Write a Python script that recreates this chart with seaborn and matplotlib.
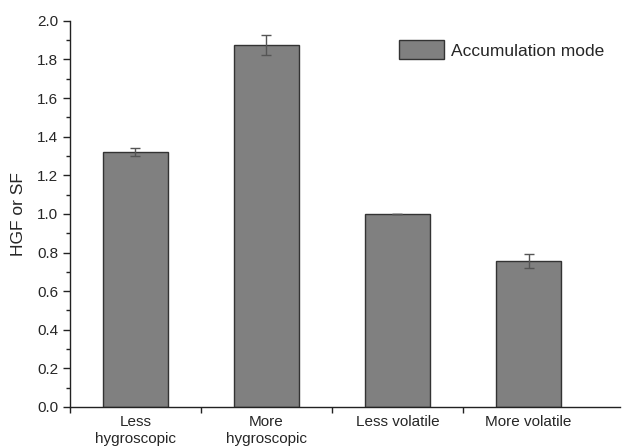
#!/usr/bin/env python

import numpy as np
import pandas as pd
import matplotlib
matplotlib.use("Agg")
import matplotlib.pyplot as plt
import seaborn as sns
from matplotlib.patches import Patch
from matplotlib.ticker import MultipleLocator, FixedLocator, FormatStrFormatter

# データ
categories = ["Less\nhygroscopic", "More\nhygroscopic", "Less volatile", "More volatile"]
values = [1.32, 1.875, 1.0, 0.755]
errors = [0.02, 0.05, 0.0, 0.035]
legend_label = "Accumulation mode"


def main():
    sns.set_style("ticks")
    plt.rcParams['font.family'] = ['Liberation Sans', 'DejaVu Sans']

    df = pd.DataFrame({'cat': categories, 'val': values})

    fig = plt.figure(figsize=(6.24, 4.47), dpi=100)
    ax = fig.add_axes([0.112, 0.0895, 0.882, 0.864])

    sns.barplot(data=df, x='cat', y='val', color='#808080', saturation=1,
                width=0.5, errorbar=None, edgecolor='#333333', linewidth=1.0, ax=ax)
    ax.errorbar(x=np.arange(len(values)), y=values, yerr=errors, fmt='none',
                ecolor='#555555', elinewidth=1.0, capsize=3.5, capthick=1.0)

    ax.set_xlim(-0.5, 3.7)
    ax.set_ylim(0, 2.0)

    # 軸設定
    ax.yaxis.set_major_locator(MultipleLocator(0.2))
    ax.yaxis.set_minor_locator(MultipleLocator(0.1))
    ax.yaxis.set_major_formatter(FormatStrFormatter('%.1f'))
    ax.set_xticks(np.arange(len(categories)) - 0.5)
    ax.set_xticklabels([])
    ax.xaxis.set_minor_locator(FixedLocator(np.arange(len(categories))))
    ax.set_xticklabels(categories, minor=True)
    ax.tick_params(axis='x', which='minor', length=0, labelsize=11, pad=6)
    ax.tick_params(axis='x', which='major', length=4, width=1, color='#222222')
    ax.tick_params(axis='y', which='major', length=5, width=1, labelsize=11, color='#222222')
    ax.tick_params(axis='y', which='minor', length=3, width=1, color='#222222')
    for s in ['left', 'bottom']:
        ax.spines[s].set_linewidth(1.0)
        ax.spines[s].set_color('#222222')
    sns.despine(ax=ax)

    ax.set_xlabel('')
    ax.set_ylabel('HGF or SF', fontsize=12.5, labelpad=8)

    handle = Patch(facecolor='#808080', edgecolor='#333333', linewidth=1.0)
    ax.legend([handle], [legend_label], loc='upper right', bbox_to_anchor=(1.0, 0.99),
              frameon=False, fontsize=12.5, handlelength=2.6, handleheight=1.3,
              handletextpad=0.4)

    plt.savefig("out.png", dpi=100)
    plt.close('all')


if __name__ == '__main__':
    main()
